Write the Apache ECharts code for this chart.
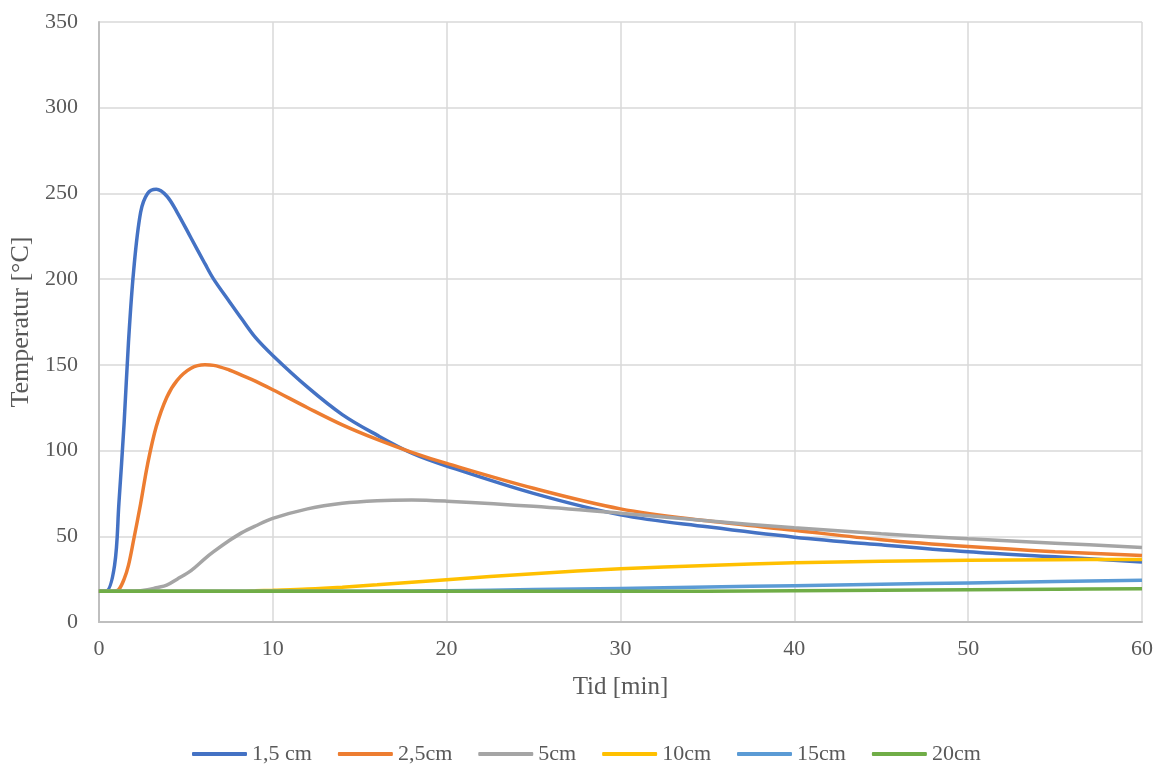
<!DOCTYPE html>
<html>
<head>
<meta charset="utf-8">
<script src="https://cdn.jsdelivr.net/npm/echarts@6/dist/echarts.min.js"></script>
<style>
html,body{margin:0;padding:0;background:#fff;}
#chart{width:1160px;height:765px;}
</style>
</head>
<body>
<div id="chart"></div>
<script>
// tid [min]
var tid = [0, 0.4, 0.9, 1.15, 1.45, 1.7, 2, 2.4, 2.8, 3.3, 3.9, 4.5, 5.3, 6.1, 6.6, 7.5, 8.2, 9, 10, 12, 14, 16, 18, 20, 25, 30, 35, 40, 45, 50, 55, 60];
var namn = ['1,5 cm', '2,5cm', '5cm', '10cm', '15cm', '20cm'];
var t15 = [18, 18, 33, 69, 116, 163, 205, 239, 250, 252.4, 248.5, 239, 224, 209, 200, 187, 177, 166, 155.5, 137, 121, 109, 98.5, 91, 75, 62.5, 55.5, 49.5, 45, 41, 38, 35];
var t25 = [18, 18, 18, 19, 25, 33, 48, 69, 92, 114, 131, 141, 148, 150, 149.7, 147, 144, 140.5, 135.5, 125, 115, 106.5, 99, 92.5, 78, 66, 59, 53.5, 48, 44, 41, 38.8];
var t5 = [18, 18, 18, 18, 18, 18, 18, 18.2, 18.8, 20, 21.5, 25, 30, 37, 41, 47.5, 52, 56, 60.4, 66, 69.3, 70.8, 71.2, 70.5, 67.5, 63.5, 59, 55, 51.5, 48.5, 46, 43.5];
var t10 = [18, 18, 18, 18, 18, 18, 18, 18, 18, 18, 18, 18, 18, 18, 18, 18, 18, 18.2, 18.5, 19.2, 20.3, 21.7, 23.2, 24.7, 28.2, 31, 33, 34.5, 35.4, 36, 36.3, 36.5];
var t15cm = [18, 18, 18, 18, 18, 18, 18, 18, 18, 18, 18, 18, 18, 18, 18, 18, 18, 18, 18, 18, 18, 18, 18.1, 18.3, 18.9, 19.6, 20.4, 21.2, 22, 22.8, 23.6, 24.4];
var t20 = [18, 18, 18, 18, 18, 18, 18, 18, 18, 18, 18, 18, 18, 18, 18, 18, 18, 18, 18, 18, 18, 18, 18, 18, 18, 18, 18, 18.2, 18.5, 18.8, 19.1, 19.4];
var farger = ['#4472C4', '#ED7D31', '#A5A5A5', '#FFC000', '#5B9BD5', '#70AD47'];

var chart = echarts.init(document.getElementById('chart'));
var serif = 'Liberation Serif';

function par(vals) {
    var out = [];
    for (var i = 0; i < tid.length; i++) out.push([tid[i], vals[i]]);
    return out;
}
var allData = [t15, t25, t5, t10, t15cm, t20];
var series = [];
for (var k = 0; k < namn.length; k++) {
    series.push({
        name: namn[k],
        type: 'line',
        smooth: 0.35,
        showSymbol: false,
        symbol: 'none',
        lineStyle: { width: 3.5, color: farger[k] },
        itemStyle: { color: farger[k] },
        data: par(allData[k])
    });
}

var option = {
    animation: false,
    backgroundColor: '#fff',
    grid: { left: 98, right: 18, top: 22, bottom: 143 },
    legend: {
        top: 738,
        left: 187,
        icon: 'roundRect',
        itemWidth: 55,
        itemHeight: 4,
        itemGap: 26,
        textStyle: { fontFamily: serif, fontSize: 22, color: '#595959' },
        data: namn
    },
    xAxis: {
        type: 'value',
        min: 0, max: 60, interval: 10,
        name: 'Tid [min]',
        nameLocation: 'middle',
        nameGap: 53,
        nameTextStyle: { fontFamily: serif, fontSize: 25, color: '#595959' },
        axisLine: { lineStyle: { color: '#bfbfbf', width: 2 } },
        axisTick: { show: false },
        axisLabel: { fontFamily: serif, fontSize: 22, color: '#595959', margin: 16 },
        splitLine: { show: true, lineStyle: { color: '#d9d9d9', width: 1.5 } }
    },
    yAxis: {
        type: 'value',
        min: 0, max: 350, interval: 50,
        name: 'Temperatur [°C]',
        nameLocation: 'middle',
        nameGap: 60,
        nameTextStyle: { fontFamily: serif, fontSize: 26, color: '#595959' },
        axisLine: { show: true, lineStyle: { color: '#bfbfbf', width: 2 } },
        axisTick: { show: false },
        axisLabel: { fontFamily: serif, fontSize: 22, color: '#595959', margin: 21 },
        splitLine: { show: true, lineStyle: { color: '#d9d9d9', width: 1.5 } }
    },
    series: series
};
chart.setOption(option);
</script>
</body>
</html>
